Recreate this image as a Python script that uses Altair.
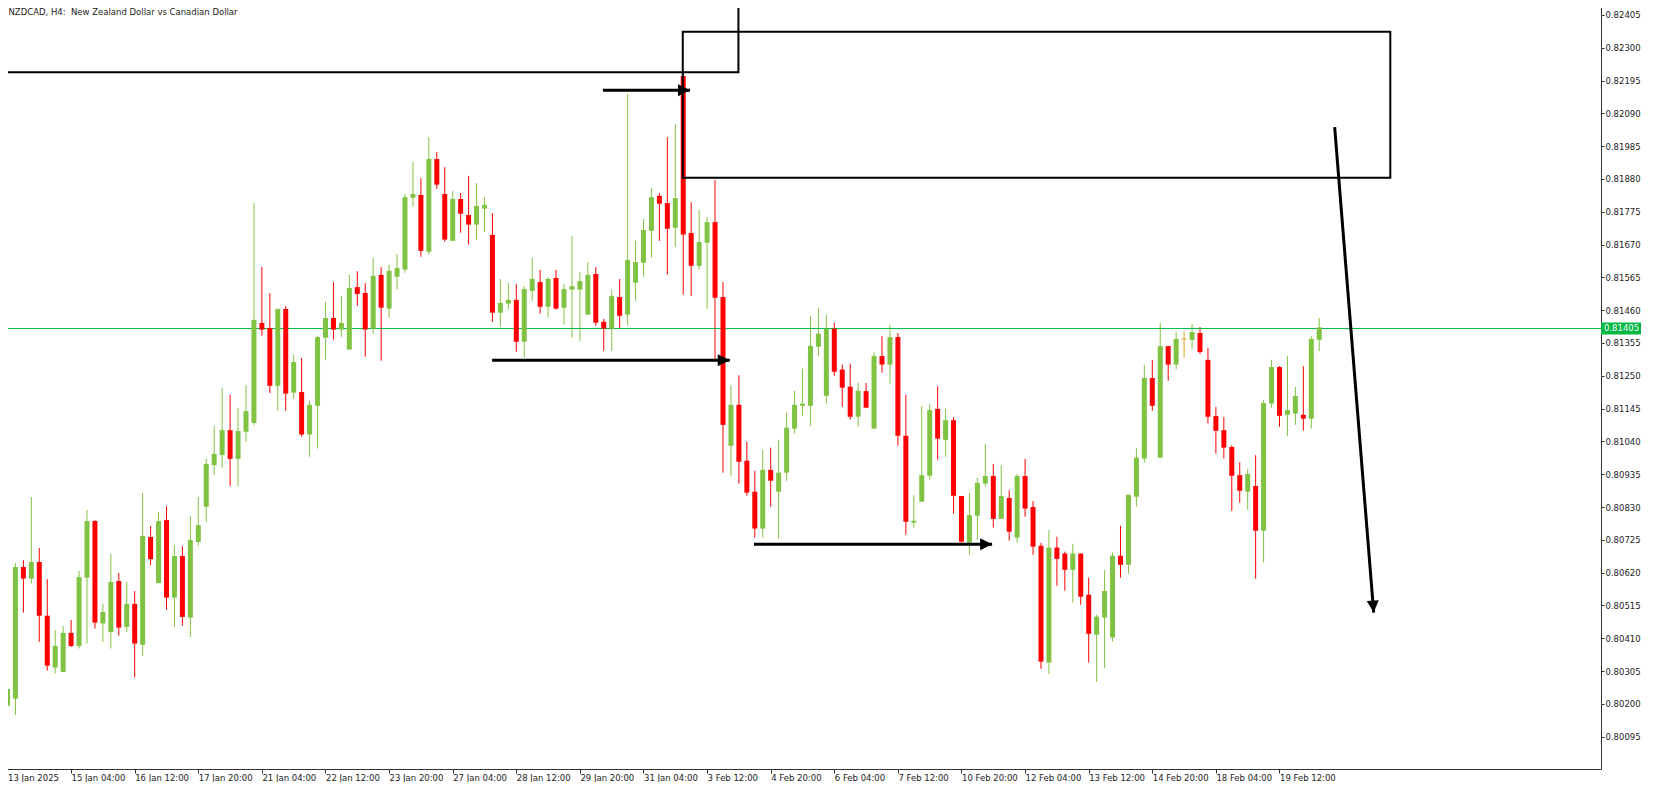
import altair as alt
import pandas as pd

chart_title = "NZDCAD, H4:\u00a0 New Zealand Dollar vs Canadian Dollar"

opens = [
    0.80194, 0.80217, 0.80638, 0.80601, 0.80654, 0.80482, 0.80316, 0.80302, 0.80427, 0.80385,
    0.80604, 0.80785, 0.80457, 0.80430, 0.80593, 0.80446, 0.80520, 0.80389, 0.80734, 0.80587,
    0.80788, 0.80540, 0.80673, 0.80476, 0.80718, 0.80831, 0.80964, 0.80996, 0.81076, 0.80984,
    0.81071, 0.81099, 0.81419, 0.81403, 0.81218, 0.81464, 0.81196, 0.81198, 0.81062, 0.81154,
    0.81372, 0.81435, 0.81398, 0.81334, 0.81534, 0.81515, 0.81401, 0.81573, 0.81465, 0.81567,
    0.81590, 0.81820, 0.81829, 0.81647, 0.81944, 0.81832, 0.81682, 0.81816, 0.81765, 0.81734,
    0.81785, 0.81701, 0.81452, 0.81481, 0.81493, 0.81359, 0.81522, 0.81550, 0.81471, 0.81563,
    0.81468, 0.81526, 0.81526, 0.81446, 0.81576, 0.81423, 0.81401, 0.81502, 0.81446, 0.81548,
    0.81612, 0.81714, 0.81826, 0.81803, 0.81724, 0.82210, 0.81707, 0.81602, 0.81676, 0.81742,
    0.81502, 0.81026, 0.81157, 0.80978, 0.80879, 0.80761, 0.80949, 0.80879, 0.80940, 0.81081,
    0.81154, 0.81154, 0.81343, 0.81186, 0.81401, 0.81270, 0.81215, 0.81119, 0.81201, 0.81081,
    0.81313, 0.81286, 0.81374, 0.81058, 0.80780, 0.80847, 0.80930, 0.81144, 0.81045, 0.81108,
    0.80865, 0.80716, 0.80802, 0.80905, 0.80929, 0.80792, 0.80859, 0.80732, 0.80929, 0.80830,
    0.80706, 0.80332, 0.80700, 0.80681, 0.80629, 0.80681, 0.80549, 0.80421, 0.80476, 0.80412,
    0.80674, 0.80645, 0.80863, 0.80985, 0.81243, 0.80988, 0.81345, 0.81286, 0.81368, 0.81365,
    0.81387, 0.81301, 0.81121, 0.81076, 0.81022, 0.80932, 0.80879, 0.80897, 0.80754, 0.81161,
    0.81278, 0.81125, 0.81129, 0.81125, 0.81113, 0.81365,
]

highs = [
    0.80263, 0.80651, 0.80660, 0.80862, 0.80699, 0.80599, 0.80436, 0.80449, 0.80468, 0.80625,
    0.80820, 0.80788, 0.80520, 0.80680, 0.80619, 0.80590, 0.80561, 0.80875, 0.80769, 0.80814,
    0.80833, 0.80708, 0.80705, 0.80801, 0.80862, 0.80984, 0.81090, 0.81211, 0.81189, 0.81147,
    0.81220, 0.81803, 0.81598, 0.81515, 0.81464, 0.81473, 0.81317, 0.81307, 0.81170, 0.81378,
    0.81486, 0.81550, 0.81505, 0.81573, 0.81585, 0.81547, 0.81627, 0.81598, 0.81605, 0.81640,
    0.81832, 0.81934, 0.81883, 0.82014, 0.81966, 0.81918, 0.81842, 0.81835, 0.81890, 0.81867,
    0.81822, 0.81771, 0.81560, 0.81547, 0.81544, 0.81537, 0.81627, 0.81589, 0.81566, 0.81589,
    0.81544, 0.81698, 0.81582, 0.81614, 0.81598, 0.81432, 0.81525, 0.81560, 0.82152, 0.81682,
    0.81752, 0.81851, 0.81835, 0.82014, 0.82056, 0.82210, 0.81806, 0.81781, 0.81758, 0.81877,
    0.81550, 0.81220, 0.81252, 0.81039, 0.80946, 0.81013, 0.81020, 0.81045, 0.81132, 0.81202,
    0.81273, 0.81442, 0.81468, 0.81446, 0.81420, 0.81286, 0.81289, 0.81228, 0.81227, 0.81326,
    0.81377, 0.81413, 0.81387, 0.81189, 0.80868, 0.81153, 0.81160, 0.81217, 0.81144, 0.81118,
    0.80865, 0.80875, 0.80923, 0.81032, 0.80968, 0.80964, 0.80884, 0.80936, 0.80984, 0.80849,
    0.80715, 0.80756, 0.80735, 0.80687, 0.80712, 0.80681, 0.80604, 0.80485, 0.80628, 0.80684,
    0.80770, 0.80869, 0.81019, 0.81285, 0.81301, 0.81419, 0.81345, 0.81390, 0.81393, 0.81416,
    0.81406, 0.81339, 0.81150, 0.81118, 0.81028, 0.80974, 0.80952, 0.80996, 0.81172, 0.81301,
    0.81281, 0.81313, 0.81214, 0.81281, 0.81377, 0.81435,
]

lows = [
    0.80084, 0.80164, 0.80492, 0.80585, 0.80398, 0.80306, 0.80297, 0.80302, 0.80382, 0.80377,
    0.80393, 0.80441, 0.80398, 0.80377, 0.80418, 0.80430, 0.80284, 0.80354, 0.80644, 0.80584,
    0.80501, 0.80446, 0.80450, 0.80414, 0.80706, 0.80782, 0.80932, 0.80955, 0.80897, 0.80897,
    0.81038, 0.81092, 0.81378, 0.81195, 0.81138, 0.81138, 0.81177, 0.81055, 0.80991, 0.81017,
    0.81302, 0.81366, 0.81375, 0.81334, 0.81474, 0.81311, 0.81385, 0.81298, 0.81436, 0.81526,
    0.81580, 0.81791, 0.81631, 0.81638, 0.81848, 0.81679, 0.81682, 0.81708, 0.81670, 0.81686,
    0.81711, 0.81423, 0.81407, 0.81462, 0.81327, 0.81308, 0.81490, 0.81449, 0.81436, 0.81462,
    0.81414, 0.81372, 0.81362, 0.81446, 0.81410, 0.81330, 0.81330, 0.81401, 0.81410, 0.81490,
    0.81567, 0.81628, 0.81682, 0.81574, 0.81663, 0.81510, 0.81506, 0.81590, 0.81465, 0.81304,
    0.80940, 0.80930, 0.80905, 0.80866, 0.80732, 0.80732, 0.80831, 0.80728, 0.80914, 0.81065,
    0.81122, 0.81090, 0.81314, 0.81161, 0.81250, 0.81151, 0.81110, 0.81087, 0.81148, 0.81081,
    0.81260, 0.81225, 0.81026, 0.80741, 0.80764, 0.80847, 0.80917, 0.80981, 0.80991, 0.80809,
    0.80716, 0.80677, 0.80725, 0.80895, 0.80764, 0.80792, 0.80722, 0.80716, 0.80799, 0.80677,
    0.80312, 0.80296, 0.80578, 0.80562, 0.80524, 0.80517, 0.80332, 0.80270, 0.80315, 0.80399,
    0.80604, 0.80616, 0.80831, 0.80972, 0.81138, 0.80988, 0.81234, 0.81270, 0.81308, 0.81336,
    0.81320, 0.81097, 0.81001, 0.80985, 0.80818, 0.80844, 0.80821, 0.80600, 0.80652, 0.81148,
    0.81087, 0.81058, 0.81093, 0.81074, 0.81081, 0.81329,
]

closes = [
    0.80247, 0.80638, 0.80601, 0.80654, 0.80482, 0.80322, 0.80385, 0.80427, 0.80385, 0.80606,
    0.80785, 0.80460, 0.80494, 0.80590, 0.80444, 0.80520, 0.80393, 0.80737, 0.80663, 0.80785,
    0.80540, 0.80673, 0.80478, 0.80724, 0.80772, 0.80968, 0.81000, 0.81076, 0.80984, 0.81073,
    0.81137, 0.81429, 0.81398, 0.81218, 0.81464, 0.81193, 0.81294, 0.81062, 0.81157, 0.81374,
    0.81435, 0.81398, 0.81419, 0.81531, 0.81512, 0.81398, 0.81570, 0.81468, 0.81586, 0.81595,
    0.81822, 0.81832, 0.81650, 0.81944, 0.81862, 0.81686, 0.81816, 0.81769, 0.81734, 0.81794,
    0.81797, 0.81452, 0.81483, 0.81493, 0.81359, 0.81528, 0.81560, 0.81471, 0.81560, 0.81465,
    0.81528, 0.81537, 0.81553, 0.81573, 0.81420, 0.81401, 0.81505, 0.81442, 0.81621, 0.81614,
    0.81717, 0.81822, 0.81801, 0.81721, 0.81819, 0.81702, 0.81602, 0.81678, 0.81742, 0.81500,
    0.81093, 0.81157, 0.80975, 0.80876, 0.80761, 0.80949, 0.80914, 0.80940, 0.81084, 0.81157,
    0.81161, 0.81346, 0.81385, 0.81401, 0.81263, 0.81212, 0.81119, 0.81202, 0.81148, 0.81313,
    0.81286, 0.81374, 0.81058, 0.80783, 0.80786, 0.80932, 0.81140, 0.81049, 0.81108, 0.80866,
    0.80719, 0.80804, 0.80907, 0.80929, 0.80792, 0.80865, 0.80751, 0.80929, 0.80825, 0.80703,
    0.80335, 0.80700, 0.80664, 0.80629, 0.80681, 0.80543, 0.80424, 0.80479, 0.80561, 0.80674,
    0.80645, 0.80869, 0.80988, 0.81243, 0.81154, 0.81345, 0.81286, 0.81368, 0.81368, 0.81390,
    0.81326, 0.81119, 0.81074, 0.81020, 0.80930, 0.80882, 0.80936, 0.80754, 0.81163, 0.81278,
    0.81122, 0.81140, 0.81185, 0.81113, 0.81368, 0.81405,
]

x_labels = [
    "13 Jan 2025", "15 Jan 04:00", "16 Jan 12:00", "17 Jan 20:00", "21 Jan 04:00",
    "22 Jan 12:00", "23 Jan 20:00", "27 Jan 04:00", "28 Jan 12:00", "29 Jan 20:00",
    "31 Jan 04:00", "3 Feb 12:00", "4 Feb 20:00", "6 Feb 04:00", "7 Feb 12:00",
    "10 Feb 20:00", "12 Feb 04:00", "13 Feb 12:00", "14 Feb 20:00", "18 Feb 04:00",
    "19 Feb 12:00",
]
bars_per_label = 8

y_ticks = [
    0.82405, 0.82300, 0.82195, 0.82090, 0.81985, 0.81880, 0.81775, 0.81670,
    0.81565, 0.81460, 0.81355, 0.81250, 0.81145, 0.81040, 0.80935, 0.80830,
    0.80725, 0.80620, 0.80515, 0.80410, 0.80305, 0.80200, 0.80095,
]

current_price = 0.81405

# drawn objects (bar index, price)
box_x1 = [-1.0, 84.94]
box_x2 = [91.94, 173.94]
box_y1 = [0.82222, 0.81884]
box_y2 = [0.82550, 0.82351]

arrow_x1 = [74.9, 60.96, 93.9, 166.94]
arrow_y1 = [0.82164, 0.81300, 0.80711, 0.82046]
arrow_x2 = [85.85, 90.85, 123.85, 171.85]
arrow_y2 = [0.82164, 0.81300, 0.80711, 0.80492]
arrow_angle = [0, 0, 0, 85.4]

FONT = "DejaVu Sans"
FS = 8.5
GREEN = "#80c342"
RED = "#ff0000"
DOJI = "#daa520"
PRICE_GREEN = "#00b843"
AXIS_C = "#333333"

dirs = ["doji" if c == o else ("up" if c > o else "down") for o, c in zip(opens, closes)]
df = pd.DataFrame({
    "idx": list(range(len(opens))),
    "open": opens, "high": highs, "low": lows, "close": closes, "dir": dirs,
})

xs = alt.Scale(domain=[-0.0625, 199.8125], nice=False, zero=False)
ys = alt.Scale(domain=[0.799913, 0.824466], nice=False, zero=False)
cscale = alt.Scale(domain=["up", "down", "doji"], range=[GREEN, RED, DOJI])

label_expr = "[" + ",".join("'" + s + "'" for s in x_labels) + "][round(datum.value / %d)]" % bars_per_label

x_axis = alt.Axis(
    values=[k * bars_per_label for k in range(len(x_labels))], labelExpr=label_expr,
    title=None, grid=False, tickSize=4, tickColor=AXIS_C, domainColor=AXIS_C,
    labelAlign="left", labelBaseline="top", labelPadding=0, labelFont=FONT,
    labelFontSize=FS, labelColor="#222222", labelFlush=False, labelOverlap=False,
)
y_axis = alt.Axis(
    orient="right", values=y_ticks, format=".5f", title=None, grid=False,
    tickSize=3, tickColor=AXIS_C, domainColor=AXIS_C, labelAlign="left",
    labelBaseline="middle", labelPadding=1, labelFont=FONT, labelFontSize=FS,
    labelColor="#222222", labelFlush=False, labelOverlap=False,
)


def X(field):
    return alt.X(field, scale=xs, axis=x_axis)


def Y(field):
    return alt.Y(field, scale=ys, axis=y_axis)


base = alt.Chart(df)

wicks = base.mark_rule(strokeWidth=1).encode(
    x=X("idx:Q"), y=Y("low:Q"), y2="high:Q",
    color=alt.Color("dir:N", scale=cscale, legend=None),
)
bodies = base.mark_bar(size=5).encode(
    x=X("idx:Q"), y=Y("open:Q"), y2="close:Q",
    color=alt.Color("dir:N", scale=cscale, legend=None),
)
doji = base.transform_filter("datum.dir == 'doji'").mark_tick(
    orient="horizontal", size=5, thickness=1, opacity=1
).encode(
    x=X("idx:Q"), y=Y("open:Q"),
    color=alt.Color("dir:N", scale=cscale, legend=None),
)

price_df = pd.DataFrame({"p": [current_price]})
price_line = alt.Chart(price_df).mark_rule(
    color=PRICE_GREEN, strokeWidth=1, yOffset=1.1
).encode(y=Y("p:Q"))
price_box = alt.Chart(price_df).mark_point(
    shape="M-1,-0.29L1,-0.29L1,0.29L-1,0.29Z", filled=True, size=1681,
    color=PRICE_GREEN, opacity=1, strokeWidth=0, yOffset=1.1,
).encode(x=alt.value(1619.5), y=Y("p:Q"))
price_txt = alt.Chart(price_df).mark_text(
    align="left", baseline="middle", color="white", font=FONT, fontSize=FS, yOffset=1.1
).encode(
    x=alt.value(1602), y=Y("p:Q"),
    text=alt.Text("p:Q", format=".5f"),
)

boxes_df = pd.DataFrame({"x1": box_x1, "x2": box_x2, "y1": box_y1, "y2": box_y2})
boxes = alt.Chart(boxes_df).mark_rect(
    fillOpacity=0, stroke="black", strokeWidth=2, clip=True
).encode(x=X("x1:Q"), x2="x2:Q", y=Y("y1:Q"), y2="y2:Q")

arr_df = pd.DataFrame({
    "x1": arrow_x1, "y1": arrow_y1, "x2": arrow_x2, "y2": arrow_y2, "ang": arrow_angle,
})
shafts = alt.Chart(arr_df).mark_rule(color="black", strokeWidth=3).encode(
    x=X("x1:Q"), x2="x2:Q", y=Y("y1:Q"), y2="y2:Q",
)
heads = alt.Chart(arr_df).mark_point(
    shape="M0,0L-2,-1L-2,1Z", filled=True, size=144, color="black", opacity=1, strokeWidth=0,
).encode(
    x=X("x2:Q"), y=Y("y2:Q"),
    angle=alt.Angle("ang:Q", scale=None),
)

title_txt = alt.Chart(pd.DataFrame({"t": [chart_title]})).mark_text(
    align="left", baseline="alphabetic", font=FONT, fontSize=FS, color="#222222"
).encode(x=alt.value(6.5), y=alt.value(13), text="t:N")

chart = alt.layer(
    wicks, price_line, bodies, doji, boxes, shafts, heads, price_box, price_txt, title_txt
).properties(
    width=1599, height=767,
    autosize=alt.AutoSizeParams(type="none"),
    padding={"left": -6, "top": -6, "right": 40, "bottom": 13},
    background="white",
).configure_view(strokeWidth=0)

chart.save("out.html", embed_options={"renderer": "svg", "actions": False})
